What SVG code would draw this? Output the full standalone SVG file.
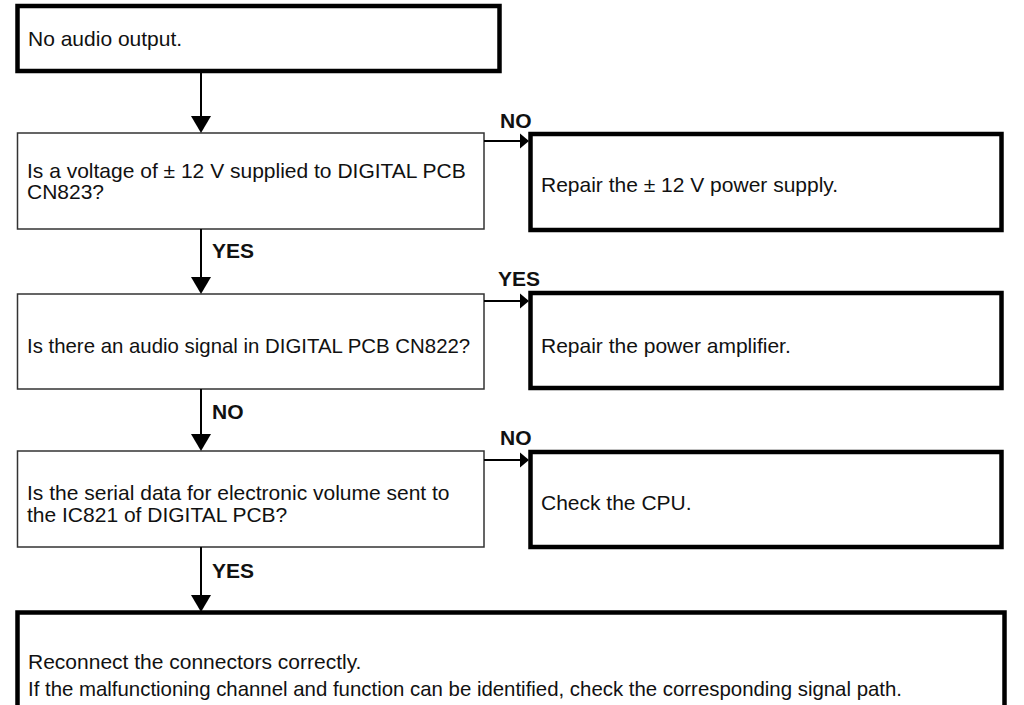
<svg xmlns="http://www.w3.org/2000/svg" width="1024" height="705" viewBox="0 0 1024 705">
<defs>
<style>
.t{font-family:"Liberation Sans",Arial,sans-serif;font-size:21px;fill:#111}
.s{font-size:20.4px}
.l{font-family:"Liberation Sans",Arial,sans-serif;font-size:21px;font-weight:bold;fill:#111}
.thick{fill:#fff;stroke:#000;stroke-width:4.5}
.thin{fill:#fff;stroke:#333;stroke-width:1.5}
.c{stroke:#000;stroke-width:2;fill:none}
</style>
</defs>
<rect width="1024" height="705" fill="#fff"/>
<g id="n1"><rect class="thick" x="17.5" y="6" width="482" height="65"/><text class="t" x="28" y="46">No audio output.</text></g>
<g id="n2"><rect class="thin" x="17.5" y="133" width="466.5" height="96"/><text class="t" x="27" y="178">Is a voltage of ± 12 V supplied to DIGITAL PCB</text><text class="t" x="27" y="199">CN823?</text></g>
<g id="n3"><rect class="thick" x="530.5" y="134" width="471" height="96"/><text class="t" x="541" y="192">Repair the ± 12 V power supply.</text></g>
<g id="n4"><rect class="thin" x="17.5" y="294" width="466.5" height="95"/><text class="t s" x="27" y="353">Is there an audio signal in DIGITAL PCB CN822?</text></g>
<g id="n5"><rect class="thick" x="530.5" y="293" width="471" height="95"/><text class="t" x="541" y="353">Repair the power amplifier.</text></g>
<g id="n6"><rect class="thin" x="17.5" y="451" width="466.5" height="96"/><text class="t" x="27" y="500">Is the serial data for electronic volume sent to</text><text class="t" x="27" y="522">the IC821 of DIGITAL PCB?</text></g>
<g id="n7"><rect class="thick" x="530.5" y="452" width="471" height="95"/><text class="t" x="541" y="510">Check the CPU.</text></g>
<g id="n8"><rect class="thick" x="17.5" y="612.5" width="987" height="120"/><text class="t" x="28" y="669">Reconnect the connectors correctly.</text><text class="t s" x="28" y="696">If the malfunctioning channel and function can be identified, check the corresponding signal path.</text></g>
<g id="connectors">
<path class="c" d="M201,71 V117"/><path d="M191,116 L211,116 L201,133 Z"/>
<path class="c" d="M201,229 V278"/><path d="M191,277 L211,277 L201,294 Z"/>
<path class="c" d="M201,389 V435"/><path d="M191,434 L211,434 L201,451 Z"/>
<path class="c" d="M201,547 V596"/><path d="M191,595 L211,595 L201,612 Z"/>
<path class="c" d="M484,141 H522"/><path d="M520,133.5 L529,141 L520,148.5 Z"/>
<path class="c" d="M484,301 H522"/><path d="M520,293.5 L529,301 L520,308.5 Z"/>
<path class="c" d="M484,460 H522"/><path d="M520,452.5 L529,460 L520,467.5 Z"/>
<text class="l" x="500" y="128">NO</text>
<text class="l" x="212" y="258">YES</text>
<text class="l" x="498" y="286">YES</text>
<text class="l" x="212" y="419">NO</text>
<text class="l" x="500" y="445">NO</text>
<text class="l" x="212" y="578">YES</text>
</g>
</svg>
